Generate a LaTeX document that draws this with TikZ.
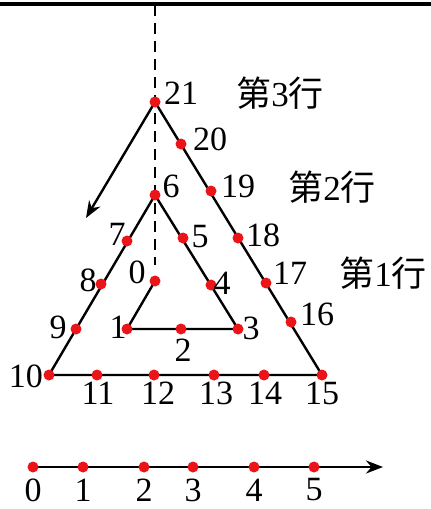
\documentclass[tikz,border=0pt]{standalone}
\usepackage{fontspec}
\setmainfont{Liberation Serif}
\newfontfamily\cjk{Noto Sans CJK SC}
\usetikzlibrary{arrows.meta,backgrounds}
\definecolor{dotred}{RGB}{235,20,25}
\begin{document}
\begin{tikzpicture}[x=1pt,y=-1pt,
  dot/.style={circle,fill=dotred,draw=none,minimum size=11pt,inner sep=0pt},
  lbl/.style={inner sep=0pt,font=\fontsize{34}{38}\selectfont},
  rowlbl/.style={inner sep=0pt,font=\fontsize{35}{40}\selectfont},
  edge/.style={line width=2.4pt,black},
  tip/.style={-{Stealth[length=17pt,width=13pt]}}]
\useasboundingbox (0,0) rectangle (431,509);
% top rule
\coordinate (tl) at (0,4);
\coordinate (tr) at (431,4);
\draw[line width=3.5pt] (tl) -- (tr);
% dots
\node[dot] (p0) at (155,281) {};
\node[dot] (p1) at (127,329) {};
\node[dot] (p2) at (181,329) {};
\node[dot] (p3) at (238,329) {};
\node[dot] (p4) at (211,285) {};
\node[dot] (p5) at (183,238) {};
\node[dot] (p6) at (155,195) {};
\node[dot] (p7) at (127,241) {};
\node[dot] (p8) at (101,284) {};
\node[dot] (p9) at (76,329) {};
\node[dot] (p10) at (49,375) {};
\node[dot] (p11) at (97,375) {};
\node[dot] (p12) at (154,375) {};
\node[dot] (p13) at (214,375) {};
\node[dot] (p14) at (264,375) {};
\node[dot] (p15) at (322,375) {};
\node[dot] (p16) at (291,322) {};
\node[dot] (p17) at (266,283) {};
\node[dot] (p18) at (238,238) {};
\node[dot] (p19) at (211,191) {};
\node[dot] (p20) at (181,144) {};
\node[dot] (p21) at (155,102) {};
\coordinate (atip) at (86,218);
\coordinate (dtop) at (155,5);
\coordinate (dbot) at (155,265);
% number line dots
\node[dot] (n0) at (33,467) {};
\node[dot] (n1) at (83,467) {};
\node[dot] (n2) at (144,467) {};
\node[dot] (n3) at (193,467) {};
\node[dot] (n4) at (254,467) {};
\node[dot] (n5) at (314,467) {};
\coordinate (nend) at (383,467);
\begin{scope}[on background layer]
\draw[line width=2.4pt,dash pattern=on 11pt off 7pt] (dtop) -- (dbot);
\draw[edge,line join=miter] (p0.center) -- (p1.center) -- (p3.center) -- (p6.center) -- (p10.center) -- (p15.center) -- (p21.center);
\draw[edge,tip] (p21.center) -- (atip);
\draw[edge,tip] (n0.center) -- (nend);
\end{scope}
% labels
\node[lbl] (l21) at (181,93) {21};
\node[lbl] (l20) at (210,139) {20};
\node[lbl] (l19) at (238,186) {19};
\node[lbl] (l18) at (263,235) {18};
\node[lbl] (l17) at (290,273) {17};
\node[lbl] (l16) at (317,314) {16};
\node[lbl] (l6) at (171,186) {6};
\node[lbl] (l7) at (117,234) {7};
\node[lbl] (l5) at (200,237) {5};
\node[lbl] (l0) at (137,272) {0};
\node[lbl] (l8) at (88,280) {8};
\node[lbl] (l4) at (222,283) {4};
\node[lbl] (l9) at (58,327) {9};
\node[lbl] (l1) at (118,327) {1};
\node[lbl] (l3) at (251,328) {3};
\node[lbl] (l2) at (183,350) {2};
\node[lbl] (l10) at (26,376) {10};
\node[lbl] (l11) at (98,393) {11};
\node[lbl] (l12) at (158,393) {12};
\node[lbl] (l13) at (216,393) {13};
\node[lbl] (l14) at (265,393) {14};
\node[lbl] (l15) at (322,393) {15};
\node[rowlbl] (r3) at (280,93) {{\cjk 第}3{\cjk 行}};
\node[rowlbl] (r2) at (332,187) {{\cjk 第}2{\cjk 行}};
\node[rowlbl] (r1) at (383,273) {{\cjk 第}1{\cjk 行}};
% number line labels
\node[lbl] (m0) at (33,490) {0};
\node[lbl] (m1) at (83,490) {1};
\node[lbl] (m2) at (144,490) {2};
\node[lbl] (m3) at (193,490) {3};
\node[lbl] (m4) at (254,490) {4};
\node[lbl] (m5) at (314,490) {5};
\end{tikzpicture}
\end{document}
